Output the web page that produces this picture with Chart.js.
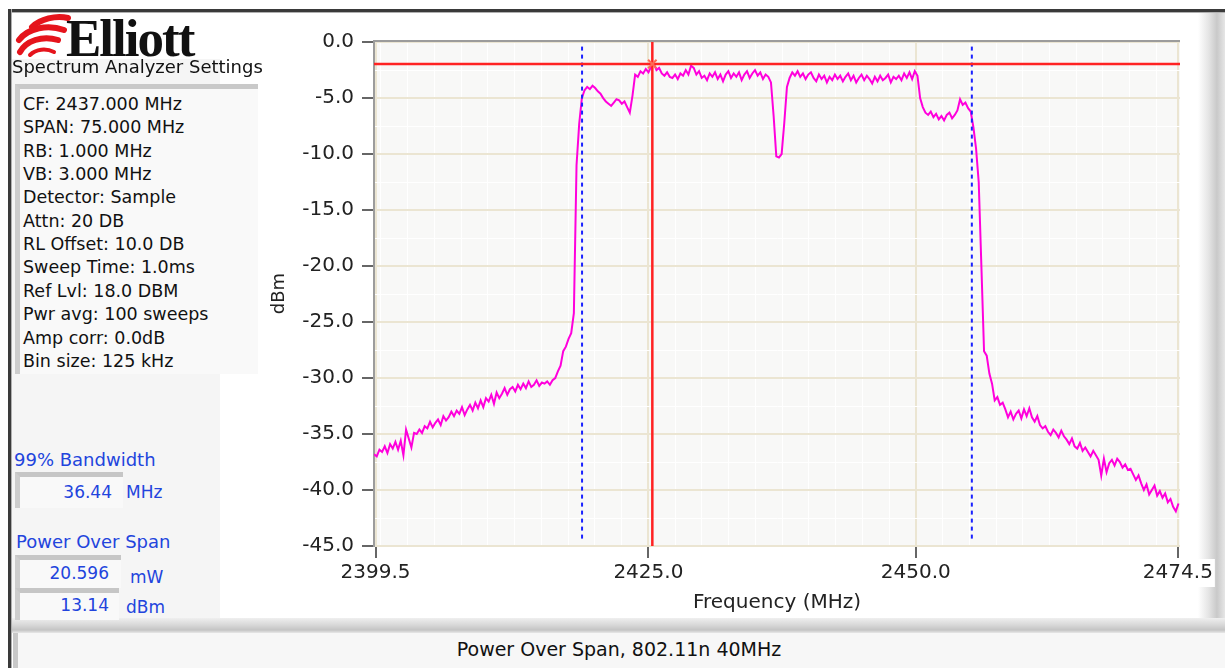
<!DOCTYPE html>
<html>
<head>
<meta charset="utf-8">
<script src="https://cdn.jsdelivr.net/npm/chart.js@4.4.1/dist/chart.umd.min.js"></script>
<style>
  body { margin: 0; width: 1225px; height: 668px; overflow: hidden; background: #fff; position: relative; font-family: "DejaVu Sans", sans-serif; }
  .abs { position: absolute; }
  #frameTop { left: 8px; top: 9px; width: 1217px; height: 3px; background: #3a3a3a; border-bottom: 1px solid #b0b0b0; }
  #frameLeft { left: 8px; top: 9px; width: 3px; height: 659px; background: #3a3a3a; border-right: 1px solid #b0b0b0; }
  #leftPanel { left: 12px; top: 13px; width: 208px; height: 606px; background: #f5f5f5; }
  #logoArea { left: 12px; top: 13px; width: 250px; height: 46px; background: #fff; }
  #chartPanel { left: 220px; top: 13px; width: 980px; height: 605px; background: #fff; }
  #rightEdge { left: 1198px; top: 13px; width: 27px; height: 605px; background: linear-gradient(to right, #fff 0%, #e4e4e4 40%, #c9c9c9 70%, #e6e6e6 100%); }
  #sepBand { left: 12px; top: 618px; width: 1213px; height: 15px; background: linear-gradient(to bottom, #efefef 0%, #d6d6d6 50%, #c4c4c4 80%, #e8e8e8 100%); }
  #statusBox { left: 13px; top: 633px; width: 1212px; height: 35px; background: #f7f7f7; border-left: 5px solid #c8c8c8; box-sizing: border-box; }
  #statusText { left: 13px; top: 638px; width: 1212px; text-align: center; font-size: 19px; color: #111; }
  #elliott { left: 66px; top: 8px; font-family: "Liberation Serif", serif; font-weight: bold; font-size: 53px; letter-spacing: -2px; color: #111; z-index: 3; }
  #settingsTitle { left: 12px; top: 56px; font-size: 18px; color: #111; white-space: nowrap; z-index: 3; }
  #settingsBox { left: 15px; top: 84px; width: 243px; height: 290px; background: #f9f9f9; border-top: 5px solid #c9c9c9; border-left: 5px solid #cdcdcd; box-sizing: border-box; z-index: 3; }
  #settingsBox div { position: absolute; left: 3px; font-size: 17.5px; color: #111; white-space: nowrap; line-height: 20px; }
  .blueLbl { font-size: 18px; color: #2244dd; white-space: nowrap; z-index: 3; line-height: 20px; }
  .valBox { background: #f9f9f9; border-top: 5px solid #c6c6c6; border-left: 5px solid #cdcdcd; box-sizing: border-box; z-index: 3; }
  .valTxt { font-size: 17px; color: #2244dd; text-align: right; z-index: 4; line-height: 20px; }
  #chartCanvas { left: 220px; top: 12px; z-index: 2; }
</style>
</head>
<body>
<div id="chartPanel" class="abs"></div>
<div id="rightEdge" class="abs"></div>
<div id="leftPanel" class="abs"></div>
<div id="logoArea" class="abs"></div>
<div id="sepBand" class="abs"></div>
<div id="statusBox" class="abs"></div>
<div id="statusText" class="abs">Power Over Span, 802.11n 40MHz</div>
<div id="frameTop" class="abs"></div>
<div id="frameLeft" class="abs"></div>

<svg class="abs" style="left:12px;top:13px;z-index:3" width="60" height="46">
  <path d="M20 14 C 28 6, 44 2, 56 5" stroke="#e5141c" stroke-width="6" fill="none" stroke-linecap="round"/>
  <path d="M7 27 C 16 15, 36 11, 52 17" stroke="#e5141c" stroke-width="6" fill="none" stroke-linecap="round"/>
  <path d="M8 39 C 14 28, 30 22, 46 27" stroke="#e5141c" stroke-width="6" fill="none" stroke-linecap="round"/>
  <path d="M18 42 C 24 36, 34 35, 42 39" stroke="#e5141c" stroke-width="4" fill="none" stroke-linecap="round"/>
</svg>
<div id="elliott" class="abs">Elliott</div>
<div id="settingsTitle" class="abs">Spectrum Analyzer Settings</div>
<div id="settingsBox" class="abs"></div>

<div class="abs blueLbl" style="left:14px;top:450px">99% Bandwidth</div>
<div class="abs valBox" style="left:15px;top:472px;width:108px;height:36px"></div>
<div class="abs valTxt" style="left:15px;top:482px;width:97px">36.44</div>
<div class="abs blueLbl" style="left:126px;top:482px;font-size:17px">MHz</div>

<div class="abs blueLbl" style="left:16px;top:532px">Power Over Span</div>
<div class="abs valBox" style="left:15px;top:555px;width:106px;height:33px"></div>
<div class="abs valTxt" style="left:15px;top:563px;width:94px">20.596</div>
<div class="abs blueLbl" style="left:130px;top:567px;font-size:17px">mW</div>
<div class="abs valBox" style="left:15px;top:588px;width:104px;height:32px"></div>
<div class="abs valTxt" style="left:15px;top:595px;width:94px">13.14</div>
<div class="abs blueLbl" style="left:126px;top:597px;font-size:17px">dBm</div>

<canvas id="chartCanvas" class="abs" width="1005" height="612"></canvas>

<script>
// analyzer settings shown in the side box
const settingLines = [
  'CF: 2437.000 MHz', 'SPAN: 75.000 MHz', 'RB: 1.000 MHz', 'VB: 3.000 MHz',
  'Detector: Sample', 'Attn: 20 DB', 'RL Offset: 10.0 DB', 'Sweep Time: 1.0ms',
  'Ref Lvl: 18.0 DBM', 'Pwr avg: 100 sweeps', 'Amp corr: 0.0dB', 'Bin size: 125 kHz'
];

// frequency axis of the trace (MHz)
const freqStart = 2399.36;
const freqStep = 0.249;

// measured trace, dBm
const traceDbm = [
  -36.8, -37.0, -36.4, -36.6,   -36.1, -36.7, -35.9, -36.3,
  -35.7, -36.4, -35.6, -36.9,   -34.6, -35.4, -36.2, -34.9,
  -35.0, -34.6, -34.9, -34.3,   -34.5, -33.9, -34.4, -34.0,
  -33.7, -34.2, -33.4, -33.8,   -33.5, -33.0, -33.4, -32.9,
  -33.2, -32.6, -33.3, -32.8,   -32.4, -32.9, -32.2, -32.7,
  -32.0, -32.6, -31.8, -32.1,   -31.5, -32.3, -31.3, -31.8,
  -31.4, -30.9, -31.5, -31.0,   -30.8, -31.2, -30.6, -31.0,
  -30.5, -30.9, -30.3, -30.8,   -30.6, -30.2, -30.7, -30.4,
  -30.5, -30.3, -30.6, -30.2,   -30.0, -29.4, -28.9, -27.6,
  -27.2, -26.5, -26.0, -24.2,   -11.0, -7.3, -5.0, -4.3,
  -4.0, -4.2, -3.9, -4.1,       -4.4, -4.6, -5.0, -5.3,
  -5.5, -5.7, -5.4, -5.1,       -5.2, -5.5, -5.3, -5.8,
  -6.3, -4.8, -2.9, -3.1,       -2.6, -2.8, -2.4, -2.7,
  -2.2, -1.9, -2.5, -2.3,       -2.8, -3.0, -2.7, -3.1,
  -3.2, -2.9, -3.3, -2.8,       -3.0, -2.5, -2.9, -2.1,
  -2.3, -2.9, -2.6, -3.2,       -3.0, -3.4, -2.8, -3.1,
  -2.7, -3.3, -2.9, -3.5,       -2.9, -2.6, -3.2, -2.8,
  -3.1, -2.7, -3.4, -2.9,       -2.6, -3.2, -2.8, -2.5,
  -3.0, -2.7, -3.3, -2.9,       -3.1, -3.6, -6.6, -10.2,
  -10.3, -10.0, -7.2, -4.0,     -3.2, -2.7, -3.0, -2.6,
  -3.1, -2.8, -3.3, -2.9,       -2.7, -3.2, -3.5, -2.9,
  -3.3, -3.0, -3.6, -3.1,       -3.4, -2.9, -3.3, -3.0,
  -3.5, -3.1, -2.8, -3.4,       -3.0, -3.6, -3.2, -2.9,
  -3.4, -3.0, -3.3, -3.7,       -3.1, -3.5, -3.0, -3.4,
  -3.2, -2.9, -3.6, -3.1,       -3.3, -3.0, -3.4, -2.8,
  -3.2, -2.7, -3.3, -2.6,       -3.0, -5.0, -5.8, -6.3,
  -6.5, -6.2, -6.7, -6.4,       -6.9, -6.6, -7.0, -6.5,
  -6.3, -6.8, -6.5, -6.1,       -5.1, -5.6, -5.4, -5.9,
  -6.2, -7.6, -9.5, -12.5,      -20.0, -27.6, -28.0, -29.6,
  -30.5, -32.0, -31.7, -32.4,   -32.2, -32.8, -33.5, -33.0,
  -33.7, -33.2, -32.9, -33.6,   -32.8, -33.4, -32.7, -33.5,
  -33.9, -33.4, -34.2, -34.5,   -34.3, -34.8, -35.1, -34.6,
  -34.9, -35.3, -34.7, -35.2,   -35.5, -35.9, -35.4, -36.1,
  -36.3, -35.8, -36.5, -36.2,   -36.6, -37.0, -36.5, -36.9,
  -37.3, -38.7, -37.2, -38.4,   -37.6, -37.3, -37.8, -37.2,
  -37.5, -38.0, -37.7, -38.2,   -38.1, -38.6, -39.1, -38.7,
  -39.4, -40.0, -39.5, -40.4,   -40.0, -39.6, -40.5, -40.1,
  -40.7, -40.3, -41.1, -40.8,   -41.5, -41.9, -41.2
];

// axes
const xMin = 2399.35, xMax = 2474.7;
const yMin = -45, yMax = 0.1;
const xTicks = [2399.5, 2425.0, 2450.0, 2474.5];
const yTicks = [0, -5, -10, -15, -20, -25, -30, -35, -40, -45];

// 99% bandwidth edges and marker
const bandEdges = [2418.8, 2455.24];
const bandLineTop = -0.4, bandLineBottom = -44.6;
const cursorFreq = 2425.37;
const cursorDbm = -1.95;

const box = document.getElementById('settingsBox');
settingLines.forEach((txt, i) => {
  const d = document.createElement('div');
  d.textContent = txt;
  d.style.top = (5 + i * 23.35) + 'px';
  box.appendChild(d);
});

const xMinor = [];
for (let v = 2400; v < 2474.5; v += 2.5) {
  if (!xTicks.includes(v)) xMinor.push(v);
}
const yMinor = [];
for (let v = -2.5; v > -45; v -= 5) yMinor.push(v);

const tracePoints = traceDbm.map((v, i) => ({ x: freqStart + i * freqStep, y: v }));

const plotFrame = {
  id: 'plotFrame',
  beforeDraw(chart) {
    const { ctx, chartArea: a } = chart;
    ctx.save();
    ctx.fillStyle = '#f8f8f7';
    ctx.fillRect(a.left, a.top, a.right - a.left, a.bottom - a.top);
    ctx.restore();
  },
  afterDraw(chart) {
    const { ctx, chartArea: a } = chart;
    ctx.save();
    ctx.strokeStyle = '#9c9c9c';
    ctx.lineWidth = 2;
    ctx.beginPath();
    ctx.moveTo(a.left - 1, a.top);
    ctx.lineTo(a.right, a.top);
    ctx.stroke();
    ctx.restore();
  }
};

const isMajorX = v => xTicks.includes(v);
const isMajorY = v => yTicks.includes(v);

new Chart(document.getElementById('chartCanvas'), {
  type: 'line',
  data: {
    datasets: [
      {
        label: 'marker',
        data: [{ x: cursorFreq, y: cursorDbm }],
        showLine: false,
        pointStyle: 'crossRot',
        pointRadius: 6,
        pointBorderWidth: 2,
        pointBorderColor: '#ff6a55',
        order: 0
      },
      {
        label: 'cursor h',
        data: [{ x: xMin, y: cursorDbm }, { x: xMax, y: cursorDbm }],
        borderColor: '#ff2222',
        borderWidth: 2.5,
        pointRadius: 0,
        order: 1
      },
      {
        label: 'cursor v',
        data: [{ x: cursorFreq, y: yMax }, { x: cursorFreq, y: yMin }],
        borderColor: '#ff2222',
        borderWidth: 2.5,
        pointRadius: 0,
        order: 1
      },
      {
        label: 'bw low',
        data: [{ x: bandEdges[0], y: bandLineTop }, { x: bandEdges[0], y: bandLineBottom }],
        borderColor: '#1a22ff',
        borderWidth: 2,
        borderDash: [4, 4],
        pointRadius: 0,
        order: 2
      },
      {
        label: 'bw high',
        data: [{ x: bandEdges[1], y: bandLineTop }, { x: bandEdges[1], y: bandLineBottom }],
        borderColor: '#1a22ff',
        borderWidth: 2,
        borderDash: [4, 4],
        pointRadius: 0,
        order: 2
      },
      {
        label: 'trace',
        data: tracePoints,
        borderColor: '#ff00dc',
        borderWidth: 2,
        pointRadius: 0,
        tension: 0,
        order: 3
      }
    ]
  },
  options: {
    responsive: false,
    animation: false,
    devicePixelRatio: 1,
    events: [],
    layout: { padding: { top: 29, right: 45, bottom: 0, left: 0 } },
    plugins: { legend: { display: false }, tooltip: { enabled: false } },
    scales: {
      x: {
        type: 'linear',
        min: xMin,
        max: xMax,
        afterBuildTicks: scale => {
          scale.ticks = xTicks.concat(xMinor).map(v => ({ value: v }));
        },
        afterFit: scale => {
          scale.height = 78;
          scale.paddingLeft = 0;
          scale.paddingRight = 0;
        },
        border: { display: false },
        grid: {
          color: c => isMajorX(c.tick.value) ? '#ebe5d2' : '#ffffff',
          lineWidth: c => isMajorX(c.tick.value) ? 2 : 1,
          tickColor: c => isMajorX(c.tick.value) ? '#333' : 'rgba(0,0,0,0)',
          tickLength: 12,
          tickWidth: 1.5
        },
        ticks: {
          autoSkip: false,
          maxRotation: 0,
          padding: 3,
          color: '#222',
          font: { family: 'DejaVu Sans', size: 20 },
          showLabelBackdrop: true,
          backdropColor: c => isMajorX(c.tick.value) ? '#ffffff' : 'rgba(0,0,0,0)',
          backdropPadding: 2,
          callback: v => isMajorX(v) ? v.toFixed(1) : ''
        },
        title: {
          display: true,
          text: 'Frequency (MHz)',
          color: '#222',
          font: { family: 'DejaVu Sans', size: 20 },
          padding: { top: 0, bottom: 9 }
        }
      },
      y: {
        type: 'linear',
        min: yMin,
        max: yMax,
        afterBuildTicks: scale => {
          scale.ticks = yTicks.concat(yMinor).map(v => ({ value: v }));
        },
        afterFit: scale => {
          scale.width = 154;
          scale.paddingTop = 0;
          scale.paddingBottom = 0;
        },
        border: { display: true, color: '#9c9c9c', width: 2 },
        grid: {
          color: c => isMajorY(c.tick.value) ? '#ebe5d2' : '#ffffff',
          lineWidth: c => isMajorY(c.tick.value) ? 2 : 1,
          tickColor: c => isMajorY(c.tick.value) ? '#333' : 'rgba(0,0,0,0)',
          tickLength: 12,
          tickWidth: 1.5
        },
        ticks: {
          autoSkip: false,
          padding: 8,
          color: '#222',
          font: { family: 'DejaVu Sans', size: 20 },
          callback: v => isMajorY(v) ? v.toFixed(1) : ''
        },
        title: {
          display: true,
          text: 'dBm',
          color: '#222',
          font: { family: 'DejaVu Sans', size: 18 },
          padding: { top: 49, bottom: 0 }
        }
      }
    }
  },
  plugins: [plotFrame]
});
</script>
</body>
</html>
